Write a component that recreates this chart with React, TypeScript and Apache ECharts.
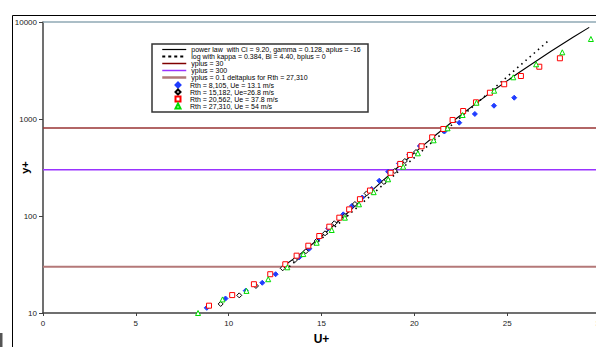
import React, { useEffect, useRef } from "react";
import * as echarts from "echarts";

// U+ axis ticks 0..30, y+ log axis 10..10000
const xTicks = [0, 5, 10, 15, 20, 25, 30];
const yTicks = [10, 100, 1000, 10000];

// power law curve
const powerU = [12.9, 13.82, 14.93, 16.22, 17.22, 17.93, 18.96, 20.3, 21.22, 22.23, 23.43, 24.31, 25.62, 27.36, 28.57, 29.42];
const powerY = [30, 40, 60, 100, 150, 200, 300, 500, 700, 1000, 1500, 2000, 3000, 5000, 7000, 8800];

// log law line
const logU = [13.26, 20.58, 27.26];
const logY = [30, 500, 6500];

// horizontal reference lines
const lineX = [0, 30];
const yplus30 = 30;
const yplus300 = 300;
const yplusDelta = 810;
const yTop = 10000;

// Rth = 8,105
const r1U = [8.82, 9.83, 10.92, 11.81, 12.53, 13.8, 14.34, 14.79, 15.36, 16.17, 16.64, 17.19, 17.7, 18.11, 18.59, 19.17, 19.73, 20.3, 20.99, 21.62, 22.42, 23.26, 24.29, 25.38];
const r1Y = [11.3, 14.1, 17.0, 20.5, 25.1, 37.5, 46.0, 56.6, 74.6, 104, 127, 155, 190, 231, 286, 348, 430, 527, 637, 743, 916, 1127, 1371, 1658];
// Rth = 15,182
const r2U = [9.57, 10.57, 11.47, 12.91, 13.57, 14.16, 14.74, 15.19, 15.69, 16.26, 16.8, 17.43, 18.36, 18.95, 19.49, 20.09];
const r2Y = [12.4, 15.2, 19.0, 28.9, 35.2, 43.3, 55.2, 66.3, 84.1, 100, 133, 171, 224, 291, 369, 457];
// Rth = 20,562
const r3U = [8.94, 10.19, 11.36, 12.24, 13.05, 13.66, 14.29, 14.88, 15.42, 15.96, 16.49, 17.07, 17.61, 18.72, 19.24, 19.76, 20.39, 20.96, 21.56, 22.06, 22.63, 23.32, 24.07, 24.84, 25.74, 26.73, 27.84];
const r3Y = [11.9, 15.3, 19.8, 25.1, 31.8, 39.0, 49.4, 62.2, 77.6, 96.1, 117, 149, 183, 279, 344, 426, 523, 647, 789, 977, 1209, 1486, 1866, 2281, 2775, 3459, 4227];
// Rth = 27,310
const r4U = [8.35, 9.67, 10.96, 12.13, 13.16, 14.02, 14.74, 15.55, 16.26, 17.02, 17.81, 18.59, 19.4, 20.19, 21.04, 21.79, 22.6, 23.35, 24.3, 25.33, 26.56, 27.97, 29.51];
const r4Y = [10.0, 13.8, 16.9, 22.3, 29.6, 40.5, 53.0, 71.7, 96.1, 132, 176, 239, 322, 443, 603, 802, 1099, 1472, 1958, 2692, 3666, 4871, 6678];

const names = [
  "power law  with Ci = 9.20, gamma = 0.128, aplus = -16",
  "log with kappa = 0.384, Bi = 4.40, bplus = 0",
  "yplus = 30",
  "yplus = 300",
  "yplus = 0.1 deltaplus for Rth = 27,310",
  "Rth = 8,105, Ue = 13.1 m/s",
  "Rth = 15,182, Ue=26.8 m/s",
  "Rth = 20,562, Ue = 37.8 m/s",
  "Rth = 27,310, Ue = 54 m/s",
];

const FONT = "'Liberation Sans', Arial, sans-serif";
const zip = (a: number[], b: number[]) => a.map((v, i) => [v, b[i]]);
const hline = (v: number) => lineX.map((x) => [x, v]);

export default function App() {
  const ref = useRef<HTMLDivElement>(null);
  useEffect(() => {
    if (!ref.current) return;
    const chart = echarts.init(ref.current, undefined, { renderer: "svg" });
    const lineSeries = (name: string, data: number[][], color: string, width: number, type: any = "solid", z = 2) => ({
      name,
      type: "line",
      data,
      symbol: "none",
      showSymbol: false,
      clip: false,
      z,
      lineStyle: { color, width, type },
      itemStyle: { color },
      emphasis: { disabled: true },
    });
    const scatter = (name: string, data: number[][], symbol: string, fill: string, stroke: string, size: number | number[]) => ({
      name,
      type: "scatter",
      data,
      symbol,
      symbolSize: size,
      z: 5,
      itemStyle: { color: fill, borderColor: stroke, borderWidth: 1, opacity: 1 },
      emphasis: { disabled: true },
    });
    const hidden = { color: "rgba(0,0,0,0)", borderColor: "rgba(0,0,0,0)", borderWidth: 0 };
    const legendText = { fontFamily: FONT, fontSize: 7, color: "#000", lineHeight: 7 };
    chart.setOption({
      animation: false,
      backgroundColor: "#ffffff",
      textStyle: { fontFamily: FONT },
      grid: { left: 43, top: 22, width: 557, height: 291, containLabel: false, outerBoundsMode: "none" },
      xAxis: {
        type: "value",
        min: xTicks[0],
        max: xTicks[xTicks.length - 1],
        interval: 5,
        name: "U+",
        nameLocation: "middle",
        nameGap: 20,
        nameMoveOverlap: false,
        nameTextStyle: { fontFamily: FONT, fontSize: 12, fontWeight: "bold", color: "#000" },
        axisLine: { show: true, onZero: false, lineStyle: { color: "#404040", width: 1.5 } },
        axisTick: { show: true, inside: false, length: 3, lineStyle: { color: "#404040" } },
        axisLabel: { fontFamily: FONT, fontSize: 8, color: "#222", margin: 6 },
        splitLine: { show: false },
      },
      yAxis: {
        type: "log",
        logBase: 10,
        min: yTicks[0],
        max: yTicks[yTicks.length - 1],
        name: "y+",
        nameLocation: "middle",
        nameGap: 13,
        nameRotate: 90,
        nameMoveOverlap: false,
        nameTextStyle: { fontFamily: FONT, fontSize: 11, fontWeight: "bold", color: "#000" },
        axisLine: { show: true, onZero: false, lineStyle: { color: "#404040", width: 1.5 } },
        axisTick: { show: true, inside: false, length: 4, lineStyle: { color: "#404040" } },
        axisLabel: { fontFamily: FONT, fontSize: 8, color: "#222", margin: 6, formatter: (v: number) => String(Math.round(v)) },
        minorTick: { show: false },
        splitLine: { show: false },
      },
      legend: [
        {
          orient: "vertical",
          left: 161,
          top: 46,
          padding: 0,
          z: 20,
          itemWidth: 24,
          itemHeight: 6,
          itemGap: 0,
          selectedMode: false,
          textStyle: legendText,
          data: [
            { name: names[0], itemStyle: hidden, lineStyle: { color: "#000", width: 1.2 } },
            { name: names[1], itemStyle: hidden, lineStyle: { color: "#000", width: 2, type: [3, 3] } },
            { name: names[2], itemStyle: hidden, lineStyle: { color: "#800000", width: 1.5 } },
            { name: names[3], itemStyle: hidden, lineStyle: { color: "#9933ff", width: 1.5 } },
            { name: names[4], itemStyle: hidden, lineStyle: { color: "#b07878", width: 2.5 } },
          ],
        },
        {
          orient: "vertical",
          left: 174.5,
          top: 81.5,
          padding: 0,
          z: 20,
          itemWidth: 5,
          itemHeight: 5,
          itemGap: 0,
          selectedMode: false,
          textStyle: { ...legendText, padding: [0, 0, 0, 4.5] },
          data: [{ name: names[5] }, { name: names[6] }, { name: names[7] }, { name: names[8] }],
        },
      ],
      graphic: [
        { type: "rect", shape: { x: 12.5, y: 15.5, width: 700, height: 400 }, style: { fill: "none", stroke: "#000", lineWidth: 1 }, silent: true, z: -10 },
        { type: "rect", shape: { x: 0, y: 333, width: 2.5, height: 14 }, style: { fill: "#555" }, silent: true },
        { type: "rect", shape: { x: 152, y: 44, width: 216, height: 68 }, style: { fill: "#fff", stroke: "#333", lineWidth: 1.5 }, silent: true, z: 6 },
      ],
      series: [
        lineSeries("top", hline(yTop), "#8fa8b4", 1.5, "solid", 1),
        lineSeries(names[2], hline(yplus30), "#b47878", 2, "solid", 1),
        lineSeries(names[3], hline(yplus300), "#9933ff", 1.5, "solid", 1),
        lineSeries(names[4], hline(yplusDelta), "#993333", 1.5, "solid", 1),
        lineSeries(names[1], zip(logU, logY), "#000", 1.6, [1.5, 4], 3),
        lineSeries(names[0], zip(powerU, powerY), "#000", 1.1, "solid", 3),
        scatter(names[5], zip(r1U, r1Y), "diamond", "#1f3cff", "#1f3cff", 5),
        scatter(names[6], zip(r2U, r2Y), "diamond", "#ffffff", "#000000", 5),
        scatter(names[7], zip(r3U, r3Y), "rect", "#ffffff", "#ff0000", 5),
        scatter(names[8], zip(r4U, r4Y), "triangle", "#ffffff", "#00dd00", 5),
      ],
    });
    return () => chart.dispose();
  }, []);
  return (
    <div style={{ position: "fixed", left: 0, top: 0, width: 596, height: 347, overflow: "hidden", background: "#fff" }}>
      <div ref={ref} style={{ width: 620, height: 347 }} />
    </div>
  );
}
